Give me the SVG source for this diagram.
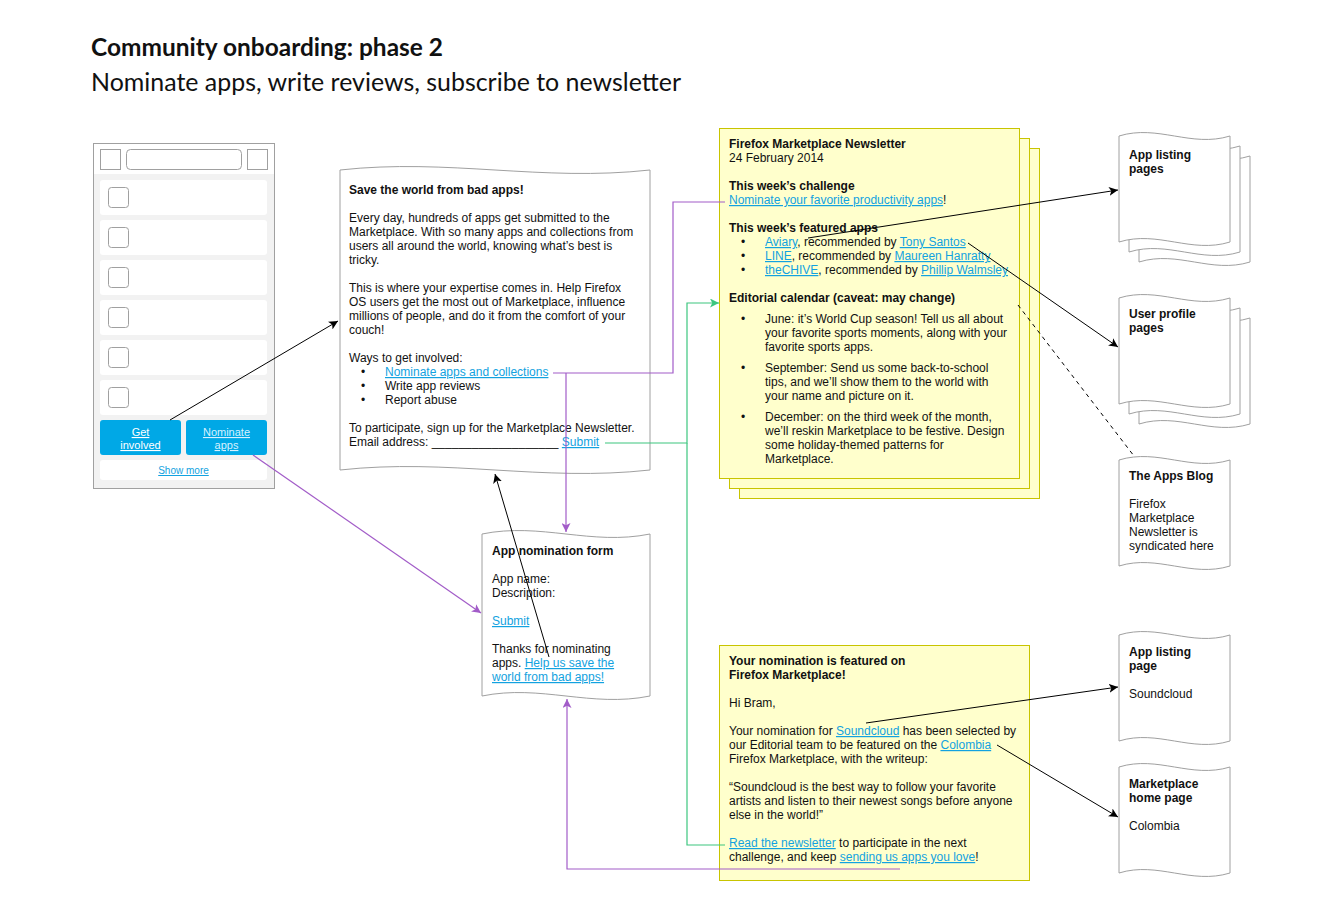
<svg xmlns="http://www.w3.org/2000/svg" xmlns:xlink="http://www.w3.org/1999/xlink" width="1340" height="910" viewBox="0 0 1340 910">
<style>
text{font-family:"Liberation Sans",Arial,sans-serif;font-size:12px;fill:#111}
.b{font-weight:bold}
.lk{fill:#12a2e0;text-decoration:underline}
.doc{fill:#fff;stroke:#a0a0a0;stroke-width:1}
.yel{fill:#ffffcc;stroke:#c8c400;stroke-width:1}
.ttl{font-family:Lato,"Noto Sans",sans-serif;font-size:25px;fill:#111}
.blk{fill:none;stroke:#000;stroke-width:1}
.pur{fill:none;stroke:#a25cc8;stroke-width:1.2}
.grn{fill:none;stroke:#3cc67f;stroke-width:1.2}
.ph{fill:#fff;stroke:#a0a0a0;stroke-width:1}
.item{fill:#fff;stroke:none}
.btn{fill:#00a8e6}
.bt{font-size:11px;fill:#fff;text-decoration:underline;text-anchor:middle}
</style>
<defs>
<path id="pg" d="M0,0 C38.85,-12 72.15,12 111,0 L111,106 C72.15,118 38.85,94 0,106 Z"/>
<marker id="ab" viewBox="0 0 10 10" refX="10" refY="5" markerWidth="9" markerHeight="9" markerUnits="userSpaceOnUse" orient="auto"><path d="M0,0 L10,5 L0,10 L2.5,5 Z" fill="#000"/></marker>
<marker id="ap" viewBox="0 0 10 10" refX="10" refY="5" markerWidth="9" markerHeight="9" markerUnits="userSpaceOnUse" orient="auto"><path d="M0,0 L10,5 L0,10 L2.5,5 Z" fill="#a25cc8"/></marker>
<marker id="ag" viewBox="0 0 10 10" refX="10" refY="5" markerWidth="9" markerHeight="9" markerUnits="userSpaceOnUse" orient="auto"><path d="M0,0 L10,5 L0,10 L2.5,5 Z" fill="#3cc67f"/></marker>
</defs>
<rect width="1340" height="910" fill="#fff"/>

<g id="title">
<text class="ttl" x="91" y="56" font-weight="bold" textLength="352" lengthAdjust="spacingAndGlyphs">Community onboarding: phase 2</text>
<text class="ttl" x="91" y="91" textLength="590" lengthAdjust="spacingAndGlyphs">Nominate apps, write reviews, subscribe to newsletter</text>
</g>

<g id="phone">
<rect x="93.5" y="143.5" width="181" height="345" fill="#f2f2f2" stroke="#a0a0a0"/>
<rect x="94" y="144" width="180" height="30" fill="#fff"/>
<rect class="ph" x="100.5" y="149.5" width="20" height="20"/>
<rect class="ph" x="126.5" y="149.5" width="115" height="20" rx="4"/>
<rect class="ph" x="247.5" y="149.5" width="20" height="20"/>
<rect class="item" x="100" y="180" width="167" height="35" rx="3"/>
<rect class="item" x="100" y="220" width="167" height="35" rx="3"/>
<rect class="item" x="100" y="260" width="167" height="35" rx="3"/>
<rect class="item" x="100" y="300" width="167" height="35" rx="3"/>
<rect class="item" x="100" y="340" width="167" height="35" rx="3"/>
<rect class="item" x="100" y="380" width="167" height="35" rx="3"/>
<rect class="ph" x="108.5" y="187.5" width="20" height="20" rx="3"/>
<rect class="ph" x="108.5" y="227.5" width="20" height="20" rx="3"/>
<rect class="ph" x="108.5" y="267.5" width="20" height="20" rx="3"/>
<rect class="ph" x="108.5" y="307.5" width="20" height="20" rx="3"/>
<rect class="ph" x="108.5" y="347.5" width="20" height="20" rx="3"/>
<rect class="ph" x="108.5" y="387.5" width="20" height="20" rx="3"/>
<g id="btn-get-involved">
<rect class="btn" x="100" y="420" width="81" height="35" rx="3"/>
<text class="bt" x="140.5" y="436">Get</text>
<text class="bt" x="140.5" y="449">involved</text>
</g>
<g id="btn-nominate-apps">
<rect class="btn" x="186" y="420" width="81" height="35" rx="3"/>
<text class="bt" x="226.5" y="436" style="fill:#d6f1ff">Nominate</text>
<text class="bt" x="226.5" y="449" style="fill:#d6f1ff">apps</text>
</g>
<rect class="item" x="100" y="460" width="167" height="20" rx="3"/>
<text class="lk" x="183.5" y="474" font-size="10" text-anchor="middle" style="font-size:10px">Show more</text>
</g>

<g id="save-world">
<path class="doc" d="M340,170 C448.5,158 541.5,182 650,170 L650,470 C541.5,482 448.5,458 340,470 Z"/>
<text class="b" x="349" y="194">Save the world from bad apps!</text>
<text x="349" y="222">Every day, hundreds of apps get submitted to the</text>
<text x="349" y="236">Marketplace. With so many apps and collections from</text>
<text x="349" y="250">users all around the world, knowing what’s best is</text>
<text x="349" y="264">tricky.</text>
<text x="349" y="292">This is where your expertise comes in. Help Firefox</text>
<text x="349" y="306">OS users get the most out of Marketplace, influence</text>
<text x="349" y="320">millions of people, and do it from the comfort of your</text>
<text x="349" y="334">couch!</text>
<text x="349" y="362">Ways to get involved:</text>
<text x="361" y="376">•</text><text class="lk" x="385" y="376">Nominate apps and collections</text>
<text x="361" y="390">•</text><text x="385" y="390">Write app reviews</text>
<text x="361" y="404">•</text><text x="385" y="404">Report abuse</text>
<text x="349" y="432">To participate, sign up for the Marketplace Newsletter.</text>
<text x="349" y="446">Email address: ___________________ <tspan class="lk">Submit</tspan></text>
</g>

<g id="nomination-form">
<path class="doc" d="M482,534 C540.8,522 591.2,546 650,534 L650,696 C591.2,708 540.8,684 482,696 Z"/>
<text class="b" x="492" y="555">App nomination form</text>
<text x="492" y="583">App name:</text>
<text x="492" y="597">Description:</text>
<text class="lk" x="492" y="625">Submit</text>
<text x="492" y="653">Thanks for nominating</text>
<text x="492" y="667">apps. <tspan class="lk">Help us save the</tspan></text>
<text class="lk" x="492" y="681">world from bad apps!</text>
</g>

<g id="newsletter">
<rect class="yel" x="739.5" y="148.5" width="300" height="350"/>
<rect class="yel" x="729.5" y="138.5" width="300" height="350"/>
<rect class="yel" x="719.5" y="128.5" width="300" height="350"/>
<text class="b" x="729" y="148">Firefox Marketplace Newsletter</text>
<text x="729" y="162">24 February 2014</text>
<text class="b" x="729" y="190">This week’s challenge</text>
<text x="729" y="204"><tspan class="lk">Nominate your favorite productivity apps</tspan>!</text>
<text class="b" x="729" y="232">This week’s featured apps</text>
<text x="741" y="246">•</text><text x="765" y="246"><tspan class="lk">Aviary</tspan>, recommended by <tspan class="lk">Tony Santos</tspan></text>
<text x="741" y="260">•</text><text x="765" y="260"><tspan class="lk">LINE</tspan>, recommended by <tspan class="lk">Maureen Hanratty</tspan></text>
<text x="741" y="274">•</text><text x="765" y="274"><tspan class="lk">theCHIVE</tspan>, recommended by <tspan class="lk">Phillip Walmsley</tspan></text>
<text class="b" x="729" y="302">Editorial calendar (caveat: may change)</text>
<text x="741" y="323">•</text>
<text x="765" y="323">June: it’s World Cup season! Tell us all about</text>
<text x="765" y="337">your favorite sports moments, along with your</text>
<text x="765" y="351">favorite sports apps.</text>
<text x="741" y="372">•</text>
<text x="765" y="372">September: Send us some back-to-school</text>
<text x="765" y="386">tips, and we’ll show them to the world with</text>
<text x="765" y="400">your name and picture on it.</text>
<text x="741" y="421">•</text>
<text x="765" y="421">December: on the third week of the month,</text>
<text x="765" y="435">we’ll reskin Marketplace to be festive. Design</text>
<text x="765" y="449">some holiday-themed patterns for</text>
<text x="765" y="463">Marketplace.</text>
</g>

<g id="app-listing-pages">
<use xlink:href="#pg" href="#pg" x="1139" y="156" class="doc"/>
<use xlink:href="#pg" href="#pg" x="1129" y="146" class="doc"/>
<use xlink:href="#pg" href="#pg" x="1119" y="136" class="doc"/>
<text class="b" x="1129" y="159">App listing</text>
<text class="b" x="1129" y="173">pages</text>
</g>

<g id="user-profile-pages">
<use xlink:href="#pg" href="#pg" x="1139" y="318" class="doc"/>
<use xlink:href="#pg" href="#pg" x="1129" y="308" class="doc"/>
<use xlink:href="#pg" href="#pg" x="1119" y="298" class="doc"/>
<text class="b" x="1129" y="318">User profile</text>
<text class="b" x="1129" y="332">pages</text>
</g>

<g id="apps-blog">
<use xlink:href="#pg" href="#pg" x="1119" y="460" class="doc"/>
<text class="b" x="1129" y="480">The Apps Blog</text>
<text x="1129" y="508">Firefox</text>
<text x="1129" y="522">Marketplace</text>
<text x="1129" y="536">Newsletter is</text>
<text x="1129" y="550">syndicated here</text>
</g>

<g id="featured-email">
<rect class="yel" x="719.5" y="645.5" width="310" height="235"/>
<text class="b" x="729" y="665">Your nomination is featured on</text>
<text class="b" x="729" y="679">Firefox Marketplace!</text>
<text x="729" y="707">Hi Bram,</text>
<text x="729" y="735">Your nomination for <tspan class="lk">Soundcloud</tspan> has been selected by</text>
<text x="729" y="749">our Editorial team to be featured on the <tspan class="lk">Colombia</tspan></text>
<text x="729" y="763">Firefox Marketplace, with the writeup:</text>
<text x="729" y="791">“Soundcloud is the best way to follow your favorite</text>
<text x="729" y="805">artists and listen to their newest songs before anyone</text>
<text x="729" y="819">else in the world!”</text>
<text x="729" y="847"><tspan class="lk">Read the newsletter</tspan> to participate in the next</text>
<text x="729" y="861">challenge, and keep <tspan class="lk">sending us apps you love</tspan>!</text>
</g>

<g id="app-listing-page">
<use xlink:href="#pg" href="#pg" x="1119" y="635" class="doc"/>
<text class="b" x="1129" y="656">App listing</text>
<text class="b" x="1129" y="670">page</text>
<text x="1129" y="698">Soundcloud</text>
</g>

<g id="marketplace-home">
<use xlink:href="#pg" href="#pg" x="1119" y="767" class="doc"/>
<text class="b" x="1129" y="788">Marketplace</text>
<text class="b" x="1129" y="802">home page</text>
<text x="1129" y="830">Colombia</text>
</g>

<g id="connectors">
<path class="blk" d="M170,420 L338,321" marker-end="url(#ab)"/>
<path class="pur" d="M253,455 L481,613" marker-end="url(#ap)"/>
<path class="pur" d="M725,202 L673,202 L673,373 L553,373"/>
<path class="pur" d="M566,373 L566,532" marker-end="url(#ap)"/>
<path class="grn" d="M605,443 L687,443 L687,303 L719,303" marker-end="url(#ag)"/>
<path class="grn" d="M725,845 L687,845 L687,443"/>
<path class="pur" d="M900,869 L567,869 L567,699" marker-end="url(#ap)"/>
<path class="blk" d="M549,657 L495,474" marker-end="url(#ab)"/>
<path class="blk" d="M808,238 L1118,190" marker-end="url(#ab)"/>
<path class="blk" d="M968,243 L1118,347" marker-end="url(#ab)"/>
<path class="blk" d="M1018,305 L1134,456" stroke-dasharray="4,4"/>
<path class="blk" d="M866,723 L1118,687" marker-end="url(#ab)"/>
<path class="blk" d="M997,745 L1118,817" marker-end="url(#ab)"/>
</g>
</svg>
